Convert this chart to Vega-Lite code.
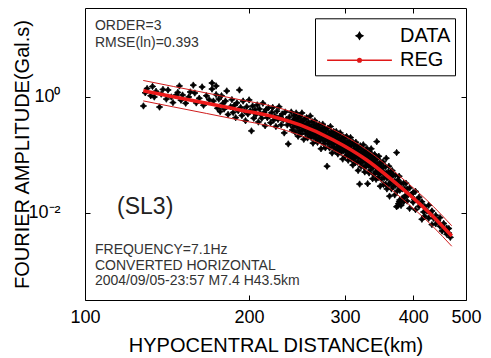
{
  "$schema": "https://vega.github.io/schema/vega-lite/v6.json",
  "width": 381,
  "height": 292,
  "autosize": {"type": "none"},
  "padding": {"left": 85, "top": 8, "right": 25, "bottom": 58},
  "background": "white",
  "config": {
    "view": {"stroke": "black", "strokeWidth": 1},
    "axis": {"grid": false, "domain": false, "tickColor": "black", "tickWidth": 1, "labelColor": "black", "titleColor": "black", "labelFont": "Liberation Sans", "titleFont": "Liberation Sans", "titleFontWeight": "normal", "labelFontSize": 18, "titleFontSize": 20},
    "legend": {"orient": "none", "legendX": 230, "legendY": 10.3, "padding": 4.5, "strokeColor": "black", "fillColor": "white", "labelFontSize": 20, "labelFont": "Liberation Sans", "labelColor": "black", "symbolSize": 576, "symbolOffset": 27, "labelOffset": 27.5, "rowPadding": 1.5, "symbolStrokeWidth": 1.5}
  },
  "resolve": {"axis": {"x": "independent", "y": "independent"}},
  "datasets": {
    "pts": [
      {"d":128,"a":0.70},{"d":129,"a":1.18},{"d":130,"a":1.40},{"d":132,"a":1.05},{"d":133,"a":1.52},{"d":134,"a":1.0},{"d":135,"a":1.25},{"d":137,"a":0.67},{"d":138,"a":1.12},{"d":139,"a":1.35},{"d":141,"a":0.92},{"d":142,"a":1.32},{"d":144,"a":1.0},{"d":145,"a":0.80},{"d":147,"a":1.08},{"d":148,"a":1.2},{"d":149,"a":1.55},{"d":150,"a":0.88},{"d":151,"a":1.08},{"d":153,"a":0.78},{"d":155,"a":1.0},{"d":156,"a":1.22},{"d":158,"a":1.6},{"d":159,"a":1.17},{"d":160,"a":0.79},{"d":162,"a":0.95},{"d":164,"a":1.49},{"d":165,"a":0.72},{"d":167,"a":1.05},{"d":169,"a":0.9},{"d":171,"a":1.74},{"d":171,"a":1.37},{"d":172,"a":0.85},{"d":174,"a":1.55},{"d":174,"a":1.1},{"d":175,"a":0.64},
      {"d":176,"a":0.92},{"d":177,"a":0.56},{"d":178,"a":1.05},{"d":179,"a":0.77},{"d":180,"a":0.62},{"d":181,"a":0.85},{"d":182,"a":1.27},{"d":183,"a":0.50},{"d":185,"a":0.68},{"d":186,"a":0.90},{"d":187,"a":0.54},{"d":188,"a":0.72},{"d":189,"a":0.44},{"d":190,"a":0.79},{"d":191,"a":0.58},{"d":192,"a":1.32},{"d":193,"a":0.66},{"d":194,"a":0.48},{"d":195,"a":0.85},{"d":196,"a":0.58},{"d":197,"a":0.39},{"d":198,"a":0.68},{"d":199,"a":0.51},{"d":200,"a":0.89},{"d":201,"a":0.58},{"d":202,"a":0.26},{"d":203,"a":0.70},{"d":204,"a":0.43},{"d":205,"a":0.60},{"d":206,"a":0.50},{"d":207,"a":0.73},{"d":208,"a":0.37},{"d":209,"a":0.62},{"d":210,"a":0.505},{"d":211,"a":0.43},{"d":212,"a":0.78},{"d":213,"a":0.54},{"d":214,"a":0.32},{"d":215,"a":0.61},{"d":216,"a":0.44},{"d":217,"a":0.65},{"d":218,"a":0.47},{"d":219,"a":0.36},{"d":220,"a":0.54},{"d":221,"a":0.66},{"d":222,"a":0.40},{"d":223,"a":0.47},{"d":224,"a":0.31},{"d":225,"a":0.57},{"d":226,"a":0.41},{"d":227,"a":0.68},{"d":228,"a":0.46},{"d":229,"a":0.33},{"d":230,"a":0.51},{"d":231,"a":0.40},{"d":232,"a":0.24},{"d":233,"a":0.55},{"d":234,"a":0.41},{"d":235,"a":0.33},{"d":236,"a":0.155},{"d":237,"a":0.45},{"d":238,"a":0.34},{"d":239,"a":0.55},{"d":240,"a":0.27},
      {"d":241,"a":0.40},{"d":241,"a":0.30},{"d":242,"a":0.48},{"d":242,"a":0.34},{"d":243,"a":0.245},{"d":243,"a":0.42},{"d":244,"a":0.345},{"d":244,"a":0.53},{"d":245,"a":0.30},{"d":245,"a":0.39},{"d":246,"a":0.21},{"d":246,"a":0.44},{"d":247,"a":0.35},{"d":247,"a":0.26},{"d":248,"a":0.46},{"d":248,"a":0.31},{"d":249,"a":0.39},{"d":249,"a":0.23},{"d":250,"a":0.32},{"d":250,"a":0.53},{"d":251,"a":0.27},{"d":251,"a":0.39},{"d":252,"a":0.34},{"d":252,"a":0.186},{"d":253,"a":0.42},{"d":253,"a":0.28},{"d":254,"a":0.30},{"d":254,"a":0.234},{"d":255,"a":0.44},{"d":255,"a":0.34},{"d":256,"a":0.255},{"d":256,"a":0.197},{"d":257,"a":0.37},{"d":257,"a":0.29},{"d":258,"a":0.224},{"d":258,"a":0.336},{"d":259,"a":0.47},{"d":259,"a":0.26},{"d":260,"a":0.30},{"d":260,"a":0.20},{"d":261,"a":0.376},{"d":261,"a":0.24},{"d":262,"a":0.27},{"d":262,"a":0.16},{"d":263,"a":0.33},{"d":263,"a":0.217},{"d":264,"a":0.25},{"d":264,"a":0.39},{"d":265,"a":0.19},{"d":265,"a":0.29},{"d":266,"a":0.23},{"d":266,"a":0.33},{"d":267,"a":0.165},{"d":267,"a":0.255},{"d":268,"a":0.29},{"d":268,"a":0.20},{"d":269,"a":0.34},{"d":269,"a":0.228},{"d":270,"a":0.18},{"d":270,"a":0.26},{"d":271,"a":0.128},{"d":271,"a":0.29},{"d":272,"a":0.22},{"d":272,"a":0.195},{"d":273,"a":0.34},{"d":273,"a":0.256},{"d":274,"a":0.158},{"d":274,"a":0.22},{"d":275,"a":0.29},{"d":275,"a":0.176},{"d":276,"a":0.224},{"d":276,"a":0.133},{"d":277,"a":0.19},{"d":277,"a":0.26},{"d":278,"a":0.064},{"d":278,"a":0.20},{"d":279,"a":0.29},{"d":279,"a":0.157},{"d":280,"a":0.22},{"d":280,"a":0.177},{"d":281,"a":0.132},{"d":281,"a":0.236},{"d":282,"a":0.194},{"d":282,"a":0.31},{"d":283,"a":0.156},{"d":283,"a":0.247},{"d":284,"a":0.18},{"d":284,"a":0.108},{"d":285,"a":0.214},{"d":285,"a":0.16},{"d":286,"a":0.254},{"d":286,"a":0.137},{"d":287,"a":0.185},{"d":287,"a":0.162},{"d":288,"a":0.218},{"d":288,"a":0.121},{"d":289,"a":0.164},{"d":289,"a":0.254},{"d":290,"a":0.136},{"d":290,"a":0.189},{"d":291,"a":0.22},{"d":291,"a":0.104},{"d":292,"a":0.163},{"d":292,"a":0.14},{"d":293,"a":0.19},{"d":293,"a":0.122},{"d":294,"a":0.24},{"d":294,"a":0.15},{"d":295,"a":0.11},{"d":295,"a":0.169},{"d":296,"a":0.196},{"d":296,"a":0.133},{"d":297,"a":0.085},{"d":297,"a":0.156},{"d":298,"a":0.203},{"d":298,"a":0.119},{"d":299,"a":0.14},{"d":299,"a":0.171},{"d":300,"a":0.0945},{"d":300,"a":0.2},
      {"d":301,"a":0.158},{"d":301,"a":0.116},{"d":302,"a":0.13},{"d":302,"a":0.208},{"d":303,"a":0.099},{"d":303,"a":0.165},{"d":304,"a":0.1375},{"d":304,"a":0.081},{"d":305,"a":0.171},{"d":305,"a":0.116},{"d":306,"a":0.098},{"d":306,"a":0.144},{"d":307,"a":0.2},{"d":307,"a":0.124},{"d":308,"a":0.084},{"d":308,"a":0.151},{"d":309,"a":0.114},{"d":309,"a":0.103},{"d":310,"a":0.168},{"d":310,"a":0.067},{"d":311,"a":0.127},{"d":311,"a":0.088},{"d":312,"a":0.146},{"d":312,"a":0.105},{"d":313,"a":0.074},{"d":313,"a":0.117},{"d":314,"a":0.166},{"d":314,"a":0.092},{"d":315,"a":0.128},{"d":315,"a":0.104},{"d":316,"a":0.075},{"d":316,"a":0.145},{"d":317,"a":0.108},{"d":317,"a":0.054},{"d":318,"a":0.126},{"d":318,"a":0.089},{"d":319,"a":0.0315},{"d":319,"a":0.1},{"d":320,"a":0.144},{"d":320,"a":0.074},{"d":321,"a":0.11},{"d":321,"a":0.063},{"d":322,"a":0.09},{"d":322,"a":0.126},{"d":323,"a":0.076},{"d":323,"a":0.102},{"d":324,"a":0.15},{"d":324,"a":0.084},{"d":325,"a":0.062},{"d":325,"a":0.11},{"d":326,"a":0.089},{"d":326,"a":0.051},{"d":327,"a":0.122},{"d":327,"a":0.076},{"d":328,"a":0.092},{"d":328,"a":0.064},{"d":329,"a":0.13},{"d":329,"a":0.081},{"d":330,"a":0.032},{"d":330,"a":0.1},{"d":331,"a":0.066},{"d":331,"a":0.105},{"d":332,"a":0.08},{"d":332,"a":0.049},{"d":333,"a":0.112},{"d":333,"a":0.071},{"d":334,"a":0.088},{"d":334,"a":0.055},{"d":335,"a":0.128},{"d":335,"a":0.071},{"d":336,"a":0.062},{"d":336,"a":0.091},{"d":337,"a":0.075},{"d":337,"a":0.039},{"d":338,"a":0.097},{"d":338,"a":0.062},{"d":339,"a":0.046},{"d":339,"a":0.081},{"d":340,"a":0.067},{"d":340,"a":0.102},{"d":341,"a":0.051},{"d":341,"a":0.084},{"d":342,"a":0.061},{"d":342,"a":0.038},{"d":343,"a":0.17},{"d":343,"a":0.069},{"d":344,"a":0.052},{"d":344,"a":0.087},{"d":345,"a":0.068},{"d":345,"a":0.041},{"d":346,"a":0.056},{"d":346,"a":0.095},{"d":347,"a":0.047},{"d":347,"a":0.071},{"d":348,"a":0.058},{"d":348,"a":0.029},{"d":349,"a":0.075},{"d":349,"a":0.049},{"d":350,"a":0.038},{"d":350,"a":0.061},{"d":352,"a":0.076},{"d":352,"a":0.049},{"d":353,"a":0.031},{"d":353,"a":0.062},{"d":354,"a":0.049},{"d":354,"a":0.041},{"d":356,"a":0.063},{"d":356,"a":0.0315},{"d":357,"a":0.049},{"d":357,"a":0.088},{"d":358,"a":0.04},{"d":358,"a":0.026},{"d":360,"a":0.051},{"d":360,"a":0.041},{"d":361,"a":0.031},{"d":361,"a":0.064},{"d":362,"a":0.043},{"d":362,"a":0.0195},{"d":364,"a":0.051},{"d":364,"a":0.034},{"d":365,"a":0.026},{"d":365,"a":0.044},{"d":366,"a":0.036},{"d":366,"a":0.054},{"d":368,"a":0.029},{"d":368,"a":0.045},{"d":370,"a":0.035},{"d":370,"a":0.0205},{"d":371,"a":0.045},{"d":371,"a":0.030},{"d":373,"a":0.11},{"d":373,"a":0.0128},{"d":374,"a":0.0345},{"d":374,"a":0.024},{"d":375,"a":0.0133},{"d":375,"a":0.037},{"d":376,"a":0.0145},{"d":376,"a":0.029},{"d":377,"a":0.0157},{"d":377,"a":0.043},{"d":378,"a":0.0168},{"d":378,"a":0.0246},{"d":380,"a":0.0135},{"d":380,"a":0.0324},
      {"d":382,"a":0.026},{"d":382,"a":0.018},{"d":384,"a":0.0155},{"d":384,"a":0.0325},{"d":386,"a":0.026},{"d":386,"a":0.0188},{"d":388,"a":0.0326},{"d":388,"a":0.0203},{"d":390,"a":0.0161},{"d":390,"a":0.0258},{"d":392,"a":0.0208},{"d":394,"a":0.012},{"d":394,"a":0.027},{"d":397,"a":0.0209},{"d":400,"a":0.0153},{"d":400,"a":0.0225},{"d":402,"a":0.017},{"d":404,"a":0.0236},{"d":404,"a":0.0114},{"d":407,"a":0.017},{"d":410,"a":0.013},{"d":410,"a":0.0187},{"d":413,"a":0.0143},{"d":415,"a":0.0078},{"d":415,"a":0.0156},{"d":418,"a":0.0104},{"d":420,"a":0.0129},{"d":420,"a":0.0088},{"d":424,"a":0.0108},{"d":427,"a":0.0136},{"d":427,"a":0.0081},{"d":430,"a":0.01},{"d":433,"a":0.0063},{"d":433,"a":0.0108},{"d":436,"a":0.0081},{"d":440,"a":0.0091},{"d":440,"a":0.0065},{"d":444,"a":0.0073},{"d":448,"a":0.0083},{"d":448,"a":0.0059},{"d":452,"a":0.0061},{"d":452,"a":0.0049},{"d":455,"a":0.0066},{"d":458,"a":0.005},{"d":461,"a":0.0055},{"d":461,"a":0.0043},{"d":465,"a":0.0045},{"d":465,"a":0.0054},{"d":468,"a":0.0038}
    ],
    "reg": [
      {"d":127.9,"reg":1.284,"up":1.926,"lo":0.856},
      {"d":145.2,"reg":1.012,"up":1.518,"lo":0.675},
      {"d":167.2,"reg":0.779,"up":1.169,"lo":0.519},
      {"d":192.5,"reg":0.597,"up":0.896,"lo":0.398},
      {"d":221.6,"reg":0.457,"up":0.686,"lo":0.305},
      {"d":248.0,"reg":0.329,"up":0.494,"lo":0.219},
      {"d":285.5,"reg":0.1814,"up":0.272,"lo":0.121},
      {"d":328.7,"reg":0.082,"up":0.123,"lo":0.0547},
      {"d":378.4,"reg":0.02841,"up":0.0426,"lo":0.01894},
      {"d":435.5,"reg":0.00864,"up":0.01296,"lo":0.00576},
      {"d":470.8,"reg":0.00401,"up":0.00602,"lo":0.00267}
    ]
  },
  "layer": [
    {
      "data": {"name": "pts"},
      "mark": {"type": "point", "filled": true, "size": 576, "strokeWidth": 0.8, "opacity": 1},
      "encoding": {
        "x": {"field": "d", "type": "quantitative", "scale": {"type": "log", "domain": [100, 500], "nice": false},
              "axis": {"orient": "bottom", "values": [100, 200, 300, 400, 500], "tickSize": -5, "labelPadding": 13, "labelFlush": false, "title": "HYPOCENTRAL DISTANCE(km)", "titlePadding": 9}},
        "y": {"field": "a", "type": "quantitative", "scale": {"type": "log", "domain": [0.000316, 34.2], "nice": false},
              "axis": {"orient": "left", "values": [1, 0.01], "labelExpr": "datum.value == 1 ? '10⁰' : '10⁻²'", "tickSize": -5, "labelPadding": 30, "title": "FOURIER AMPLITUDE(Gal.s)", "titlePadding": -5}},
        "fill": {"datum": "DATA", "scale": {"domain": ["DATA", "REG"], "range": ["black", "#e01818"]}, "legend": {"title": null}},
        "stroke": {"datum": "DATA", "scale": {"domain": ["DATA", "REG"], "range": ["black", "#e01818"]}, "legend": {"title": null}},
        "shape": {"datum": "DATA", "scale": {"domain": ["DATA", "REG"], "range": ["M0,-0.27L0.1,-0.1L0.27,0L0.1,0.1L0,0.27L-0.1,0.1L-0.27,0L-0.1,-0.1Z", "M-2.7,0H2.7M0.15,0A0.15,0.15,0,1,1,-0.15,0A0.15,0.15,0,1,1,0.15,0Z"]}, "legend": {"title": null}}
      }
    },
    {
      "data": {"name": "reg"},
      "mark": {"type": "line", "color": "#d01c1c", "strokeWidth": 1, "interpolate": "monotone"},
      "encoding": {
        "x": {"field": "d", "type": "quantitative", "axis": {"orient": "top", "values": [200, 300, 400], "labels": false, "tickSize": -5, "title": null}},
        "y": {"field": "up", "type": "quantitative", "axis": {"orient": "right", "values": [1, 0.01], "labels": false, "tickSize": -5, "title": null}}
      }
    },
    {
      "data": {"name": "reg"},
      "mark": {"type": "line", "color": "#d01c1c", "strokeWidth": 1, "interpolate": "monotone"},
      "encoding": {
        "x": {"field": "d", "type": "quantitative", "axis": null},
        "y": {"field": "lo", "type": "quantitative", "axis": null}
      }
    },
    {
      "data": {"name": "reg"},
      "mark": {"type": "line", "color": "#ee1a1a", "strokeWidth": 3.5, "interpolate": "monotone"},
      "encoding": {
        "x": {"field": "d", "type": "quantitative", "axis": null},
        "y": {"field": "reg", "type": "quantitative", "axis": null}
      }
    },
    {
      "data": {"values": [{}]},
      "mark": {"type": "text", "text": ["ORDER=3", "RMSE(ln)=0.393"], "align": "left", "baseline": "alphabetic", "fontSize": 14, "lineHeight": 17, "font": "Liberation Sans", "color": "#333333"},
      "encoding": {
        "x": {"datum": 104.3, "type": "quantitative", "axis": null},
        "y": {"datum": 14.3, "type": "quantitative", "axis": null}
      }
    },
    {
      "data": {"values": [{}]},
      "mark": {"type": "text", "text": "(SL3)", "align": "left", "baseline": "alphabetic", "fontSize": 23, "font": "Liberation Sans", "color": "#222222"},
      "encoding": {
        "x": {"datum": 114.5, "type": "quantitative", "axis": null},
        "y": {"datum": 0.0096, "type": "quantitative", "axis": null}
      }
    },
    {
      "data": {"values": [{}]},
      "mark": {"type": "text", "text": ["FREQUENCY=7.1Hz", "CONVERTED HORIZONTAL", "2004/09/05-23:57 M7.4 H43.5km"], "align": "left", "baseline": "alphabetic", "fontSize": 14, "lineHeight": 15.5, "font": "Liberation Sans", "color": "#333333"},
      "encoding": {
        "x": {"datum": 104.3, "type": "quantitative", "axis": null},
        "y": {"datum": 0.00196, "type": "quantitative", "axis": null}
      }
    }
  ]
}
